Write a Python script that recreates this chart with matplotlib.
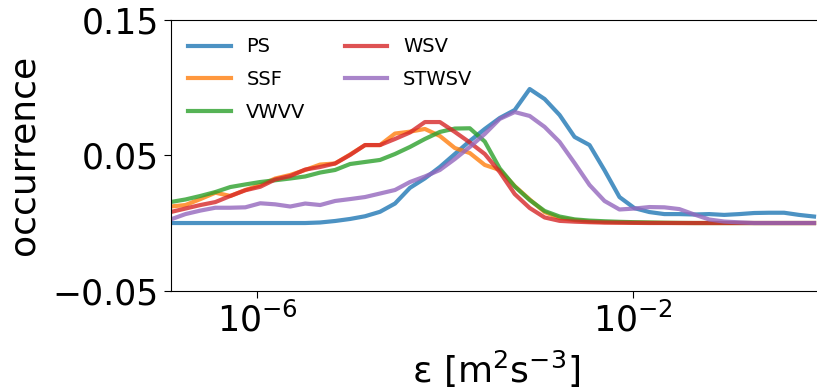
import numpy as np
import matplotlib
matplotlib.use("Agg")
import matplotlib.pyplot as plt
from matplotlib.ticker import FixedLocator, NullLocator

# 44 log-spaced bins between 1e-7 and 1 W/kg, values are bin centres
edges = np.logspace(-7, 0, 45)
eps = np.sqrt(edges[:-1] * edges[1:])

ps = [0, 0, 0, 0, 0, 0, 0, 0, 0, 0,
      0.0004, 0.0015, 0.003, 0.005, 0.0083, 0.0144, 0.026, 0.033, 0.0414, 0.051,
      0.0606, 0.0695, 0.0776, 0.0835, 0.099, 0.0916, 0.0798, 0.0636, 0.0576, 0.039,
      0.0192, 0.011, 0.0081, 0.0066, 0.0066, 0.0063, 0.0066, 0.006, 0.0066, 0.0074,
      0.0076, 0.0076, 0.006, 0.0048]
ssf = [0.0122, 0.0133, 0.0177, 0.0224, 0.020, 0.0244, 0.0281, 0.0329, 0.0355, 0.0392,
       0.0432, 0.044, 0.0506, 0.0576, 0.0576, 0.0661, 0.0675, 0.0695, 0.0643, 0.0554,
       0.0517, 0.0429, 0.0392, 0.0273, 0.0174, 0.0081, 0.0037, 0.0022, 0.0011, 0.0007,
       0.0005, 0.0003, 0.0002, 0.0001, 0, 0, 0, 0, 0, 0,
       0, 0, 0, 0]
vwvv = [0.0155, 0.0174, 0.020, 0.0229, 0.0266, 0.0285, 0.0303, 0.0316, 0.0329, 0.0344,
        0.0373, 0.0392, 0.0436, 0.0451, 0.0466, 0.051, 0.0562, 0.0621, 0.0673, 0.0698,
        0.070, 0.0602, 0.0403, 0.027, 0.017, 0.0089, 0.0048, 0.0027, 0.0018, 0.0013,
        0.0009, 0.0006, 0.0004, 0.0002, 0.0001, 0, 0, 0, 0, 0,
        0, 0, 0, 0]
wsv = [0.0081, 0.0107, 0.0133, 0.0155, 0.020, 0.0242, 0.0268, 0.0322, 0.0347, 0.0395,
       0.0414, 0.044, 0.0503, 0.0576, 0.0576, 0.0621, 0.0669, 0.0746, 0.0746, 0.0673,
       0.0595, 0.051, 0.0377, 0.0214, 0.0111, 0.0041, 0.0016, 0.001, 0.0006, 0.0003,
       0.0002, 0.0001, 0, 0, 0, 0, 0, 0, 0, 0,
       0, 0, 0, 0]
stwsv = [0.0026, 0.0066, 0.0092, 0.0113, 0.0113, 0.0116, 0.0146, 0.0138, 0.0122, 0.0144,
         0.0133, 0.0163, 0.0177, 0.0192, 0.0218, 0.0244, 0.0303, 0.0344, 0.0392, 0.0473,
         0.0562, 0.0658, 0.0769, 0.082, 0.0791, 0.071, 0.0599, 0.0443, 0.0281, 0.0163,
         0.010, 0.0107, 0.0118, 0.0116, 0.0103, 0.0063, 0.0026, 0.0011, 0.0005, 0,
         0, 0, 0, 0]

series = [("PS", ps), ("SSF", ssf), ("VWVV", vwvv), ("WSV", wsv), ("STWSV", stwsv)]

fig = plt.figure(figsize=(8.17, 3.9), dpi=100)
# axes run up to eps = 1, just past the right edge of the canvas
ax = fig.add_axes([170.5 / 817, 1 - 290.7 / 390, 651 / 817, 270.7 / 390])

for name, vals in series:
    ax.plot(eps, vals, lw=3, alpha=0.8, label=name)

ax.set_xscale("log")
ax.set_xlim(eps[0], 1.0)
ax.set_ylim(-0.05, 0.15)
ax.xaxis.set_major_locator(FixedLocator([1e-6, 1e-2]))
ax.xaxis.set_minor_locator(NullLocator())
ax.set_yticks([-0.05, 0.05, 0.15])
ax.set_yticklabels(["\u22120.05", "0.05", "0.15"])
ax.tick_params(labelsize=25, length=5)

ax.set_xlabel("\u03b5 [m$^2$s$^{-3}$]", fontsize=26, labelpad=7)
ax.set_ylabel("occurrence", fontsize=26)
ax.yaxis.set_label_coords(-0.199, 0.5)

ax.legend(ncol=2, frameon=False, fontsize=14, loc="upper left",
          handlelength=2.2, labelspacing=0.7, columnspacing=2.0)

fig.savefig("out.png", dpi=100)
